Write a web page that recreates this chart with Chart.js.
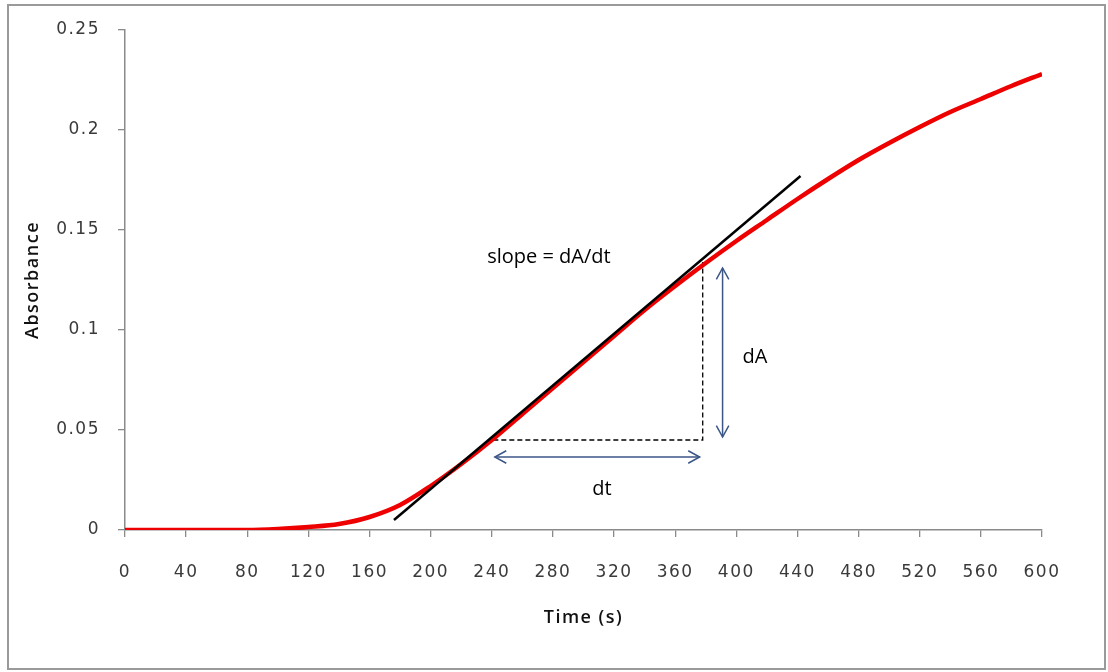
<!DOCTYPE html>
<html>
<head>
<meta charset="utf-8">
<script src="https://cdn.jsdelivr.net/npm/chart.js@4"></script>
<style>
  html, body { margin: 0; padding: 0; background: #fff; }
  #wrap { width: 1108px; height: 672px; }
</style>
</head>
<body>
<div id="wrap"><canvas id="absChart"></canvas></div>
<script>
// Absorbance curve
const times = [0, 20, 40, 60, 80, 100, 120, 140, 160, 180, 200, 220, 240, 260, 280, 300,
               320, 340, 360, 380, 400, 420, 440, 460, 480, 500, 520, 540, 560, 580, 600];
const absorbance = [0, 0, 0, 0, 0, 0.0005, 0.0015, 0.003, 0.0065, 0.0125, 0.022, 0.033, 0.045, 0.058, 0.071, 0.084,
                    0.097, 0.110, 0.122, 0.1335, 0.1445, 0.155, 0.1655, 0.1755, 0.185, 0.1935, 0.2015, 0.209, 0.2155, 0.222, 0.228];

// tangent line endpoints
const tangentX = [176, 442];
const tangentY = [0.005, 0.177];

// dashed triangle (dt leg, dA leg)
const dashX = [241, 378, 378];
const dashY = [0.045, 0.045, 0.134];

// double arrows
const dtArrowX = [242, 376];
const dtArrowY = [0.0365, 0.0365];
const dAArrowX = [391, 391];
const dAArrowY = [0.131, 0.0465];

// labels
const noteText = ['slope = dA/dt', 'dA', 'dt'];
const noteX = [237, 404, 312];
const noteY = [0.1365, 0.0865, 0.0205];
const noteAlign = ['left', 'left', 'center'];

const xTicks = [0, 40, 80, 120, 160, 200, 240, 280, 320, 360, 400, 440, 480, 520, 560, 600];
const yTicks = [0, 0.05, 0.1, 0.15, 0.2, 0.25];

function pts(xs, ys) {
    return xs.map((x, i) => ({ x: x, y: ys[i] }));
}

// outer frame + arrowheads + text notes
const extras = {
    id: 'extras',
    beforeDraw(chart) {
        const ctx = chart.ctx;
        ctx.save();
        ctx.strokeStyle = '#9a9a9a';
        ctx.lineWidth = 2;
        ctx.strokeRect(8, 5, 1097, 664);
        ctx.restore();
        // the old Excel text is loosely spaced
        ctx.letterSpacing = '1.5px';
    },
    afterDatasetsDraw(chart) {
        const ctx = chart.ctx;
        const xs = chart.scales.x, ys = chart.scales.y;
        ctx.save();
        ctx.letterSpacing = '0px';
        // arrowheads on both ends of each arrow dataset
        chart.data.datasets.forEach((ds, i) => {
            if (!ds.arrow) return;
            const p = chart.getDatasetMeta(i).data;
            const ends = [[p[0], p[1]], [p[p.length - 1], p[p.length - 2]]];
            ctx.strokeStyle = ds.borderColor;
            ctx.lineWidth = 1.5;
            ends.forEach(([tip, from]) => {
                const a = Math.atan2(tip.y - from.y, tip.x - from.x);
                const len = 13, spread = 0.5;
                ctx.beginPath();
                ctx.moveTo(tip.x - len * Math.cos(a - spread), tip.y - len * Math.sin(a - spread));
                ctx.lineTo(tip.x, tip.y);
                ctx.lineTo(tip.x - len * Math.cos(a + spread), tip.y - len * Math.sin(a + spread));
                ctx.stroke();
            });
        });
        // notes
        ctx.fillStyle = '#000';
        ctx.font = '20px "Open Sans", sans-serif';
        ctx.textBaseline = 'middle';
        noteText.forEach((t, i) => {
            ctx.textAlign = noteAlign[i];
            ctx.fillText(t, xs.getPixelForValue(noteX[i]), ys.getPixelForValue(noteY[i]));
        });
        ctx.restore();
    }
};

const tickFont = { family: '"DejaVu Sans", sans-serif', size: 17 };
const titleFont = { family: '"Open Sans", sans-serif', size: 18, weight: '600' };

new Chart(document.getElementById('absChart').getContext('2d'), {
    type: 'line',
    data: {
        datasets: [
            {
                data: pts(tangentX, tangentY),
                borderColor: '#000',
                borderWidth: 2.5,
                pointRadius: 0,
                order: 0
            },
            {
                data: pts(times, absorbance),
                borderColor: '#ee0000',
                borderWidth: 4.5,
                pointRadius: 0,
                cubicInterpolationMode: 'monotone',
                order: 1
            },
            {
                data: pts(dashX, dashY),
                borderColor: '#000',
                borderWidth: 1.3,
                borderDash: [5, 3],
                pointRadius: 0,
                order: 2
            },
            {
                data: pts(dtArrowX, dtArrowY),
                borderColor: '#3b5687',
                borderWidth: 1.5,
                pointRadius: 0,
                arrow: true,
                order: 3
            },
            {
                data: pts(dAArrowX, dAArrowY),
                borderColor: '#3b5687',
                borderWidth: 1.5,
                pointRadius: 0,
                arrow: true,
                order: 3
            }
        ]
    },
    options: {
        responsive: true,
        maintainAspectRatio: false,
        animation: false,
        layout: { padding: { top: 30, right: 66, left: 0, bottom: 0 } },
        plugins: { legend: { display: false }, tooltip: { enabled: false } },
        scales: {
            x: {
                type: 'linear',
                min: 0, max: 600,
                afterBuildTicks: s => { s.ticks = xTicks.map(v => ({ value: v })); },
                afterFit: s => { s.height = 142; },
                grid: { drawOnChartArea: false, tickLength: 7, color: '#8a8a8a', lineWidth: 1.3 },
                border: { color: '#8a8a8a', width: 1.5 },
                ticks: { color: '#3a3a3a', font: tickFont, padding: 25, maxRotation: 0 },
                title: { display: true, text: 'Time (s)', color: '#111', font: titleFont, padding: { top: 0, bottom: 43 } }
            },
            y: {
                type: 'linear',
                min: 0, max: 0.25,
                afterBuildTicks: s => { s.ticks = yTicks.map(v => ({ value: v })); },
                afterFit: s => { s.width = 125; },
                grid: { drawOnChartArea: false, tickLength: 7, color: '#8a8a8a', lineWidth: 1.3 },
                border: { color: '#8a8a8a', width: 1.5 },
                ticks: { color: '#3a3a3a', font: tickFont, padding: 18, callback: v => String(+v.toFixed(2)) },
                title: { display: true, text: 'Absorbance', color: '#111', font: titleFont, padding: { top: 22, bottom: 0 } }
            }
        }
    },
    plugins: [extras]
});
</script>
</body>
</html>
